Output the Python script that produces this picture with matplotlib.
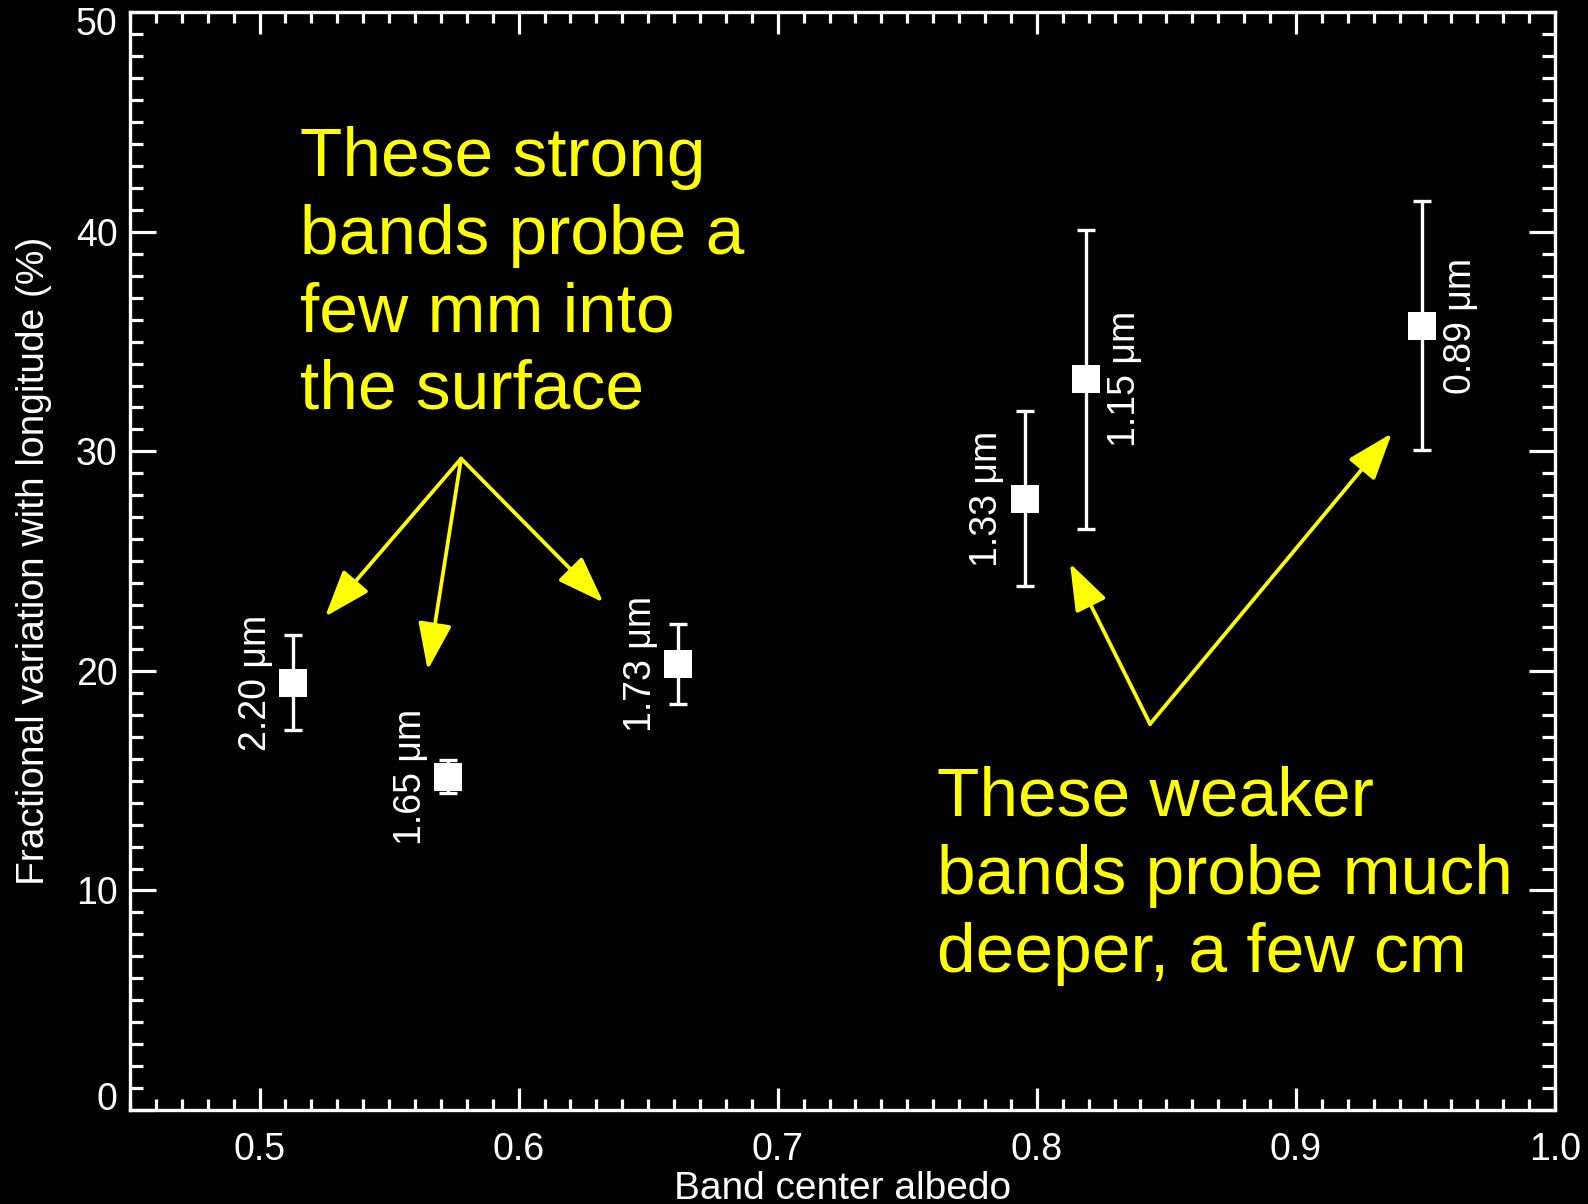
import numpy as np
import matplotlib
matplotlib.use('Agg')
import matplotlib.pyplot as plt
import matplotlib.transforms as mtransforms
from matplotlib.ticker import MultipleLocator

# band center albedo vs fractional longitudinal variation
albedo = [0.5129, 0.5728, 0.6616, 0.7954, 0.8188, 0.9485]
frac_var = [19.47, 15.18, 20.32, 27.84, 33.29, 35.72]
frac_err = [2.18, 0.75, 1.82, 3.98, 6.81, 5.67]
band_names = ['2.20 μm', '1.65 μm', '1.73 μm', '1.33 μm', '1.15 μm', '0.89 μm']
label_side = ['left', 'left', 'left', 'left', 'right', 'right']

# arrows: (start) -> [targets], in data units
strong_from = (0.5778, 29.67)
strong_to = [(0.5253, 22.47), (0.5649, 20.04), (0.6327, 23.12)]
weak_from = (0.8437, 17.58)
weak_to = [(0.8128, 24.90), (0.9370, 30.82)]

strong_text = 'These strong\nbands probe a\nfew mm into\nthe surface'
weak_text = 'These weaker\nbands probe much\ndeeper, a few cm'

plt.rcParams['font.family'] = ['Liberation Sans', 'DejaVu Sans']
plt.rcParams['text.color'] = 'white'
plt.rcParams['axes.labelcolor'] = 'white'

fig = plt.figure(figsize=(15.88, 12.04), dpi=100, facecolor='black')
ax = fig.add_axes([130/1588, 1-1110/1204, 1425/1588, (1110-12.3)/1204])
ax.set_facecolor('black')

# error bars first, squares on top
ax.errorbar(albedo, frac_var, yerr=frac_err, fmt='none', ecolor='white',
            elinewidth=2.4, capsize=6.2, capthick=2.4)
ax.plot(albedo, frac_var, 's', color='white', ms=20.5, mew=0, zorder=3)

for x, y, name, side in zip(albedo, frac_var, band_names, label_side):
    if side == 'left':
        ax.annotate(name, (x, y), xytext=(-14, 0), textcoords='offset points',
                    rotation=90, ha='right', va='center', fontsize=27, color='white')
    else:
        ax.annotate(name, (x, y), xytext=(15.5, 0), textcoords='offset points',
                    rotation=90, ha='left', va='center', fontsize=27, color='white')

arrow_kw = dict(arrowstyle='-|>,head_length=1.45,head_width=0.52', mutation_scale=20,
                color='yellow', lw=2.7, shrinkA=0, shrinkB=0)
for tgt in strong_to:
    ax.annotate('', xy=tgt, xytext=strong_from, arrowprops=arrow_kw)
for tgt in weak_to:
    ax.annotate('', xy=tgt, xytext=weak_from, arrowprops=arrow_kw)

# va='baseline' pins the last line of a multi-line text
ax.text(0.5156, 31.95, strong_text, color='yellow', fontsize=50,
        ha='left', va='baseline', linespacing=1.27)
ax.text(0.7614, 6.3, weak_text, color='yellow', fontsize=50,
        ha='left', va='baseline', linespacing=1.28)

ax.set_xlim(0.45, 1.0)
ax.set_ylim(0, 50)
ax.xaxis.set_major_locator(MultipleLocator(0.1))
ax.xaxis.set_minor_locator(MultipleLocator(0.01))
ax.yaxis.set_major_locator(MultipleLocator(10))
ax.yaxis.set_minor_locator(MultipleLocator(1))
ax.set_xticks([0.5, 0.6, 0.7, 0.8, 0.9, 1.0])
ax.set_xticklabels(['0.5', '0.6', '0.7', '0.8', '0.9', '1.0'])
ax.set_yticks([0, 10, 20, 30, 40, 50])
ax.set_yticklabels(['0', '10', '20', '30', '40', '50'])

for s in ax.spines.values():
    s.set_color('white')
    s.set_linewidth(2.4)

ax.tick_params(axis='both', which='both', direction='in', colors='white',
               top=True, right=True, width=2.3, labelsize=27)
ax.tick_params(axis='x', which='major', length=15.6, pad=15.5)
ax.tick_params(axis='x', which='minor', length=7.7)
ax.tick_params(axis='y', which='major', length=19, pad=9)
ax.tick_params(axis='y', which='minor', length=9.6)

# end labels sit inside the axis range
ylabs = ax.get_yticklabels()
ylabs[0].set_verticalalignment('baseline')
ylabs[-1].set_verticalalignment('top')
ylabs[-1].set_transform(ylabs[-1].get_transform() +
                        mtransforms.ScaledTranslation(0, 0.055, fig.dpi_scale_trans))

ax.set_xlabel('Band center albedo', fontsize=28)
ax.set_ylabel('Fractional variation with longitude (%)', fontsize=28)
ax.xaxis.set_label_coords(0.5, -0.0555)
ax.yaxis.set_label_coords(-0.0547, 0.5)

fig.savefig('out.png', dpi=100, facecolor='black')
